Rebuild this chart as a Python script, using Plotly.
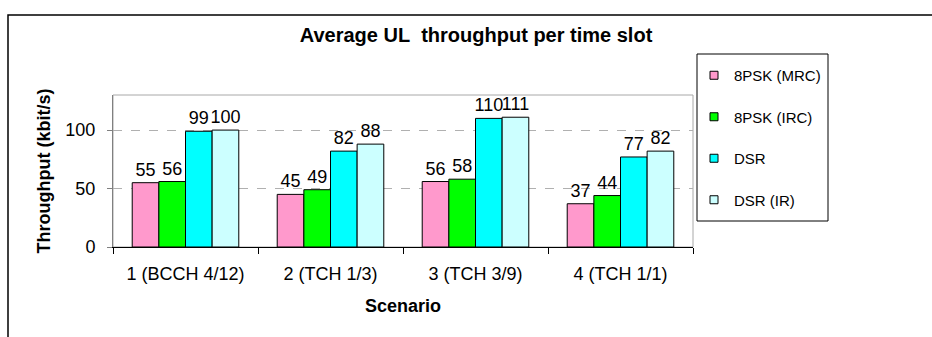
import plotly.graph_objects as go

# Scenario categories and average UL throughput per time slot (kbit/s)
scenarios = ["1 (BCCH 4/12)", "2 (TCH 1/3)", "3 (TCH 3/9)", "4 (TCH 1/1)"]
series_names = ["8PSK (MRC)", "8PSK (IRC)", "DSR", "DSR (IR)"]
mrc_8psk = [55, 45, 56, 37]
irc_8psk = [56, 49, 58, 44]
dsr = [99, 82, 110, 77]
dsr_ir = [100, 88, 111, 82]
y_ticks = [0, 50, 100]

series_values = [mrc_8psk, irc_8psk, dsr, dsr_ir]
colors = ["#FF99CC", "#00FF00", "#00FFFF", "#CCFFFF"]

FONT = "Arial, Liberation Sans, sans-serif"

fig = go.Figure()
for i, (name, vals, col) in enumerate(zip(series_names, series_values, colors)):
    fig.add_trace(go.Bar(
        x=scenarios, y=vals, name=name,
        marker=dict(color=col, line=dict(color="black", width=1)),
        text=[str(v) for v in vals], textposition="outside",
        textfont=dict(family=FONT, size=18, color="black"),
        constraintext="none", cliponaxis=False,
        legendgroup=f"g{i}", showlegend=False,
    ))
    # small square legend key for the series
    fig.add_trace(go.Scatter(
        x=[None], y=[None], mode="markers", name=name,
        marker=dict(symbol="square", size=8, color=col,
                    line=dict(color="black", width=1)),
        legendgroup=f"g{i}", showlegend=True, hoverinfo="skip",
    ))

W, H = 932, 337
ml, mr, mt, mb = 113, 239, 95, 90
pw, ph = W - ml - mr, H - mt - mb

def px_x(px):
    return (px - ml) / pw

def px_y(py):
    return (H - mb - py) / ph

fig.update_layout(
    width=W, height=H,
    margin=dict(l=ml, r=mr, t=mt, b=mb, pad=0),
    paper_bgcolor="white", plot_bgcolor="white",
    barmode="group", bargap=0.265, bargroupgap=0,
    font=dict(family=FONT, size=18, color="black"),
    title=dict(text="<b>Average UL\u00a0 throughput per time slot</b>",
               x=476 / W, xanchor="center", xref="container",
               y=1 - 35 / H, yanchor="middle", yref="container",
               font=dict(family=FONT, size=20, color="black")),
    xaxis=dict(
        showline=True, linecolor="black", linewidth=1,
        ticks="outside", ticklen=6, tickcolor="black", tickson="boundaries",
        tickfont=dict(size=18), ticklabelstandoff=10,
        title=dict(text="<b>Scenario</b>", font=dict(size=18), standoff=16),
        showgrid=False,
    ),
    yaxis=dict(
        range=[0, 130], tickvals=y_ticks,
        showline=True, linecolor="#808080", linewidth=1,
        ticks="outside", ticklen=5, tickcolor="#808080",
        tickfont=dict(size=18), ticklabelstandoff=8,
        showgrid=True, gridcolor="#b0b0b0", griddash="dash", gridwidth=1,
        zeroline=False,
        title=dict(text="<b>Throughput (kbit/s)</b>", font=dict(size=18), standoff=10),
    ),
    legend=dict(
        x=px_x(694), xanchor="left", y=px_y(59), yanchor="top",
        borderwidth=0, bgcolor="rgba(0,0,0,0)",
        font=dict(family=FONT, size=15, color="black"),
        tracegroupgap=19, traceorder="grouped",
    ),
    showlegend=True,
)

# Plot area frame (light grey), legend frame and outer chart border
fig.add_shape(type="rect", xref="paper", yref="paper", x0=0, x1=1, y0=0, y1=1,
              line=dict(color="#a8a8a8", width=1), layer="below")
fig.add_shape(type="rect", xref="paper", yref="paper",
              x0=px_x(697), x1=px_x(828), y0=px_y(54), y1=px_y(221),
              line=dict(color="black", width=1), fillcolor="rgba(0,0,0,0)")
fig.add_shape(type="rect", xref="paper", yref="paper",
              x0=px_x(8), x1=px_x(W + 20), y0=px_y(15), y1=px_y(H + 20),
              line=dict(color="black", width=1.5), fillcolor="rgba(0,0,0,0)")

fig.write_html("out.html")
